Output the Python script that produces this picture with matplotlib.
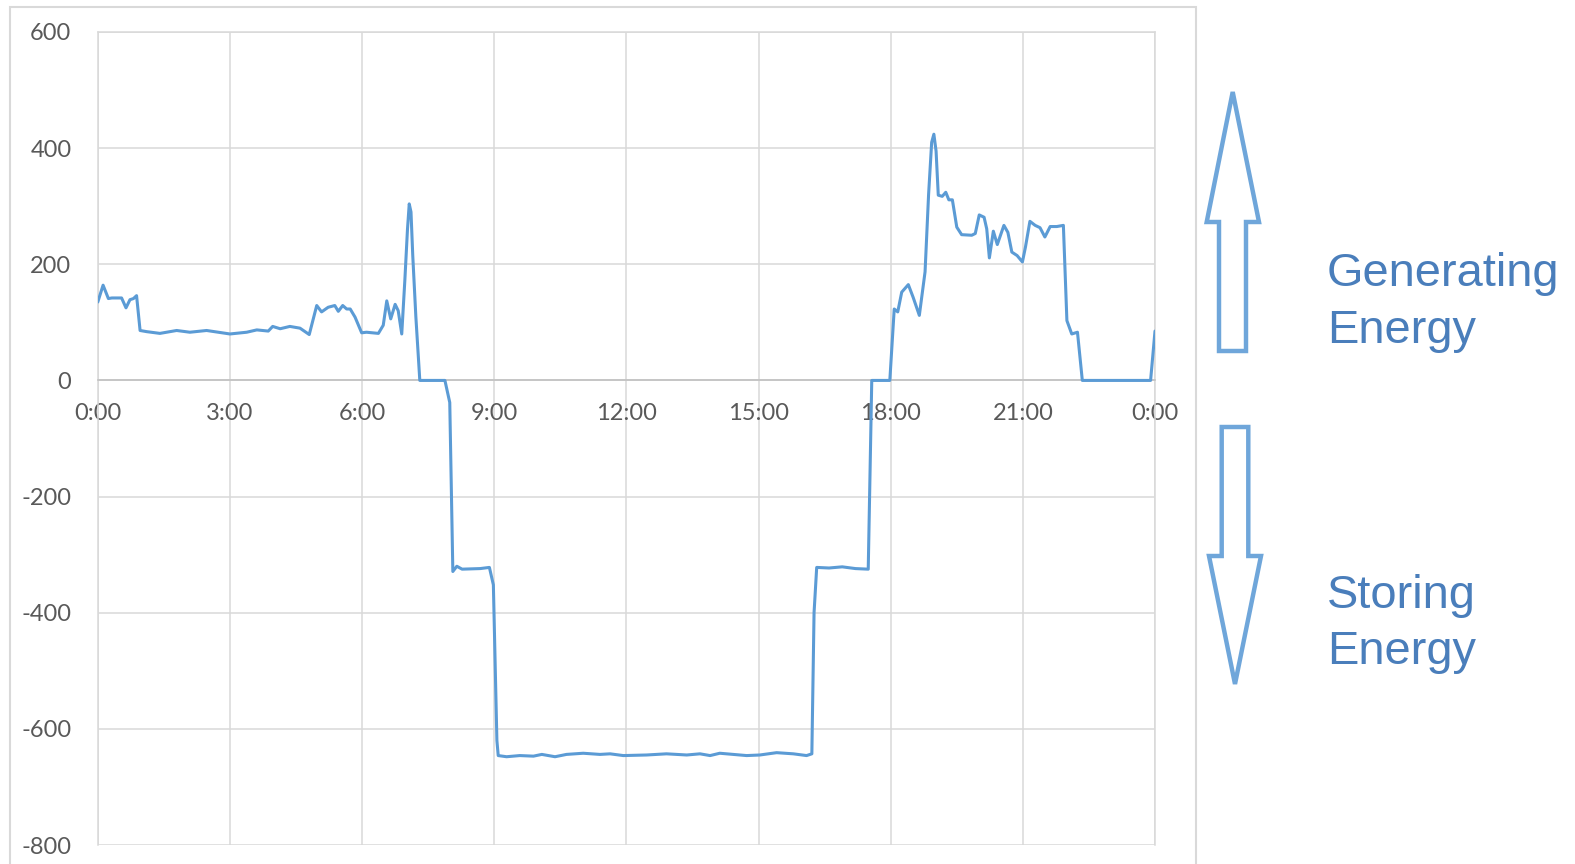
import numpy as np
import matplotlib
matplotlib.use('Agg')
import matplotlib.pyplot as plt
from matplotlib.patches import Polygon, Rectangle

# Battery power over one day (hours since midnight, W)
hours = [0.0, 0.12, 0.24, 0.32, 0.54, 0.64, 0.73, 0.81, 0.88, 0.96, 1.11, 1.41, 1.79,
         2.09, 2.47, 3.0, 3.38, 3.61, 3.87, 3.97, 4.14, 4.36, 4.59, 4.8, 4.97, 5.08,
         5.23, 5.38, 5.46, 5.56, 5.65, 5.73, 5.84, 5.99, 6.1, 6.37, 6.48, 6.56, 6.65,
         6.75, 6.82, 6.9, 6.97, 7.03, 7.07, 7.11, 7.15, 7.22, 7.31, 7.88, 7.99, 8.06,
         8.15, 8.27, 8.68, 8.89, 8.98, 9.06, 9.09, 9.28, 9.58, 9.89, 10.08, 10.38,
         10.64, 11.02, 11.4, 11.63, 11.93, 12.46, 12.91, 13.37, 13.67, 13.9, 14.12,
         14.43, 14.73, 15.03, 15.41, 15.79, 16.09, 16.21, 16.26, 16.32, 16.6, 16.9,
         17.2, 17.49, 17.57, 17.98, 18.08, 18.16, 18.25, 18.4, 18.51, 18.65, 18.78,
         18.86, 18.93, 18.98, 19.03, 19.08, 19.17, 19.25, 19.32, 19.4, 19.5, 19.61,
         19.84, 19.92, 20.01, 20.12, 20.18, 20.24, 20.33, 20.42, 20.57, 20.66, 20.75,
         20.87, 20.99, 21.06, 21.16, 21.28, 21.39, 21.5, 21.62, 21.77, 21.92, 22.0,
         22.11, 22.24, 22.35, 23.9, 24.0]
power = [135, 164, 141, 142, 142, 125, 139, 141, 146, 86, 84, 81, 86,
         83, 86, 80, 83, 87, 85, 93, 89, 93, 90, 79, 129, 118,
         126, 129, 119, 129, 123, 123, 109, 82, 83, 81, 95, 137, 106,
         131, 120, 80, 172, 260, 304, 290, 215, 110, 0, 0, -38, -329,
         -320, -325, -324, -322, -352, -620, -646, -648, -646, -647, -644, -648,
         -644, -642, -644, -643, -646, -645, -643, -645, -643, -646, -642,
         -644, -646, -645, -641, -643, -646, -643, -400, -322, -323, -321,
         -324, -325, 0, 0, 123, 118, 152, 165, 143, 112, 187,
         320, 410, 424, 395, 319, 317, 324, 311, 311, 264, 251,
         250, 253, 285, 281, 261, 211, 257, 234, 267, 255, 221,
         215, 204, 230, 274, 267, 263, 247, 265, 265, 267, 103,
         80, 83, 0, 0, 85]

x_ticks = [0, 3, 6, 9, 12, 15, 18, 21, 24]
x_labels = ['0:00', '3:00', '6:00', '9:00', '12:00', '15:00', '18:00', '21:00', '0:00']
y_ticks = [-800, -600, -400, -200, 0, 200, 400, 600]

W, H = 1575, 864
grid_c = '#d9d9d9'
label_c = '#595959'
line_c = '#5b9bd5'
arrow_c = '#6fa6da'
text_c = '#4a7ebb'

fig = plt.figure(figsize=(W / 100, H / 100), dpi=100)
fig.patch.set_facecolor('white')

# chart area outline
fig.add_artist(Rectangle((10 / W, -0.05), (1196 - 10) / W, 1.05 - 7 / H,
                         transform=fig.transFigure, fill=False,
                         edgecolor=grid_c, linewidth=1.5))

ax = fig.add_axes([97.8 / W, 1 - 845 / H, (1155 - 97.8) / W, (845 - 32) / H])
ax.plot(hours, power, color=line_c, linewidth=2.2, solid_joinstyle='round',
        solid_capstyle='round', zorder=3)

ax.set_xlim(0, 24)
ax.set_ylim(-800, 600)
ax.set_xticks(x_ticks, labels=x_labels)
ax.set_yticks(y_ticks, labels=[str(v) for v in y_ticks])
ax.grid(True, color=grid_c, linewidth=1.1)
ax.set_axisbelow(True)

for side in ['left', 'right', 'top']:
    ax.spines[side].set_color(grid_c)
    ax.spines[side].set_linewidth(1.1)
ax.spines['bottom'].set_position(('data', 0))
ax.spines['bottom'].set_color('#bfbfbf')
ax.spines['bottom'].set_linewidth(1.1)

ax.tick_params(axis='both', length=0, labelsize=17, labelcolor=label_c)
ax.tick_params(axis='x', pad=16)
ax.tick_params(axis='y', pad=19)
for lab in ax.get_xticklabels() + ax.get_yticklabels():
    lab.set_fontfamily('Lato')


def fig_pts(pts):
    return [(px / W, 1 - py / H) for px, py in pts]


# hollow arrows on the right
up_arrow = [(1232.7, 92), (1259, 222), (1246, 222), (1246, 351), (1219, 351),
            (1219, 222), (1206.7, 222)]
down_arrow = [(1221.7, 427), (1248.3, 427), (1248.3, 556), (1261, 556), (1235, 684),
              (1209, 556), (1221.7, 556)]
for pts in (up_arrow, down_arrow):
    fig.add_artist(Polygon(fig_pts(pts), closed=True, fill=False, edgecolor=arrow_c,
                           linewidth=3.2, joinstyle='miter', transform=fig.transFigure))

for txt, base in [('Generating', 286), ('Energy', 342.6), ('Storing', 608), ('Energy', 664)]:
    fig.text(1326.7 / W, 1 - base / H, txt, color=text_c, fontsize=33.8,
             family='Liberation Sans', ha='left', va='baseline')

fig.savefig('out.png', dpi=100, facecolor='white')
